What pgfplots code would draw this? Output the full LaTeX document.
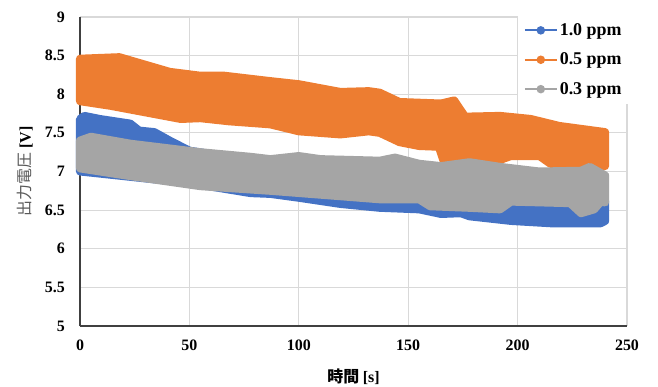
\documentclass[border=0pt]{standalone}
\usepackage{pgfplots}
\pgfplotsset{compat=1.18}
\usepackage{fontspec}
\setmainfont{Liberation Serif}
\newfontfamily\cjk{Noto Sans CJK JP}
\definecolor{cblue}{HTML}{4472C4}
\definecolor{corange}{HTML}{ED7D31}
\definecolor{cgrey}{HTML}{A5A5A5}
\definecolor{cgrid}{HTML}{D9D9D9}
\definecolor{caxis}{HTML}{404040}
\begin{document}
\begin{tikzpicture}
\path[use as bounding box] (-80bp,-61bp) rectangle (578bp,326bp);
\begin{axis}[
  scale only axis, width=547bp, height=309bp,
  xmin=0, xmax=250, ymin=5, ymax=9,
  xtick={0,50,...,250}, ytick={5,5.5,...,9},
  axis lines=left, axis line style={-, color=caxis, line width=1.2bp},
  major tick length=0pt,
  grid=major, grid style={color=cgrid, line width=1.2bp},
  clip=false,
  /pgf/number format/assume math mode=true,
  ticklabel style={font=\bfseries\fontsize{16}{16}\selectfont, inner sep=0pt},
  xticklabel shift=14bp, yticklabel shift=15bp,
  xlabel={\cjk\bfseries 時間 \rmfamily[s]},
  xlabel style={at={(axis description cs:0.5,-0.165)}, anchor=center, font=\bfseries\fontsize{16}{16}\selectfont},
  ylabel={{\color{black!65}\cjk 出力電圧} \bfseries[V]},
  ylabel style={at={(axis description cs:-0.1005,0.5)}, anchor=center, font=\fontsize{16}{16}\selectfont},
  legend style={at={(axis description cs:0.80,1.005)}, anchor=north west, draw=none, fill=white,
    font=\bfseries\fontsize{18}{18}\selectfont, row sep=12bp, inner xsep=6bp, inner ysep=6bp},
  legend cell align=left,
  legend image code/.code={\draw[mark repeat=2,mark phase=2,#1] plot coordinates {(0bp,0bp) (16bp,0bp) (32bp,0bp)};},
]
\addplot[fill=cblue, draw=cblue, line width=8bp, line join=round, mark=none, forget plot] coordinates {
 (0,7.68) (2,7.72) (9,7.68) (23,7.62) (27,7.53) (34,7.51) (41,7.40) (50,7.27) (59,7.23) (68,7.17) (90,7.05) (120,6.95) (160,6.85) (200,6.75) (240,6.62)
 (240,6.36) (238,6.33) (215,6.33) (197,6.36) (178,6.42) (174,6.46) (165,6.45) (155,6.51) (137,6.53) (119,6.58) (100,6.66) (87,6.71) (78,6.72) (50,6.85) (0,7.0)
} -- cycle;
\addplot[fill=corange, draw=corange, line width=8bp, line join=round, mark=none, forget plot] coordinates {
 (0,8.46) (18,8.48) (41,8.29) (55,8.24) (66,8.24) (87,8.17) (100,8.13) (119,8.03) (132,8.04) (137,8.02) (146,7.90) (165,7.88) (171,7.92) (176,7.71) (192,7.72) (206,7.68) (219,7.59) (240,7.51)
 (240,7.07) (215,7.10) (210,7.20) (197,7.20) (192,7.15) (166,7.15) (164,7.32) (155,7.33) (146,7.38) (137,7.50) (132,7.52) (119,7.48) (100,7.52) (87,7.61) (68,7.65) (55,7.69) (46,7.68) (14,7.85) (0,7.91)
} -- cycle;
\addplot[fill=cgrey, draw=cgrey, line width=8bp, line join=round, mark=none, forget plot] coordinates {
 (0,7.40) (5,7.45) (23,7.36) (55,7.25) (78,7.19) (87,7.16) (100,7.20) (110,7.16) (137,7.14) (144,7.18) (155,7.10) (165,7.07) (178,7.12) (192,7.06) (210,7.00) (229,7.01) (233,7.06) (240,6.95)
 (240,6.60) (238,6.61) (235,6.51) (229,6.46) (224,6.59) (197,6.61) (192,6.51) (178,6.53) (160,6.55) (155,6.64) (137,6.64) (119,6.68) (87,6.75) (55,6.81) (23,6.94) (0,7.04)
} -- cycle;
\addlegendimage{color=cblue, line width=2bp, mark=*, mark size=3.2bp}
\addlegendentry{1.0 ppm}
\addlegendimage{color=corange, line width=2bp, mark=*, mark size=3.2bp}
\addlegendentry{0.5 ppm}
\addlegendimage{color=cgrey, line width=2bp, mark=*, mark size=3.2bp}
\addlegendentry{0.3 ppm}
\end{axis}
\end{tikzpicture}
\end{document}
